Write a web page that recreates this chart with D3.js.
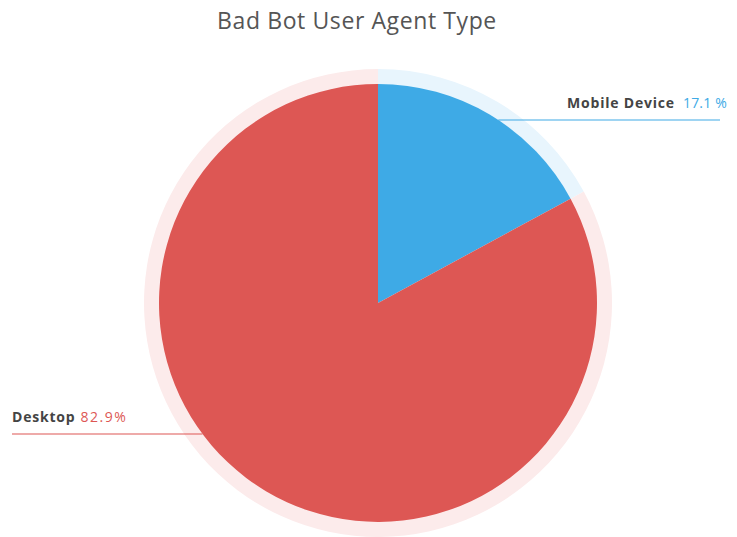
<!DOCTYPE html>
<html>
<head>
<meta charset="utf-8">
<script src="https://cdn.jsdelivr.net/npm/d3@7"></script>
<style>
  body { margin: 0; background: #fff; }
  text { font-family: "Open Sans", Lato, sans-serif; }
</style>
</head>
<body>
<div id="chart"></div>
<script>
// pie data
var categories = ["Mobile Device", "Desktop"];
var values = [17.1, 82.9];
var valueLabels = ["17.1 %", "82.9%"];

var width = 737, height = 537;
var cx = 378, cy = 303;
var radius = 219, haloRadius = 234;

var colors = d3.scaleOrdinal().domain(categories).range(["#3eaae6", "#dd5754"]);
var haloColors = d3.scaleOrdinal().domain(categories).range(["#e8f5fd", "#fcebeb"]);

var svg = d3.select("#chart").append("svg")
  .attr("width", width)
  .attr("height", height);

svg.append("text")
  .attr("x", 357)
  .attr("y", 29)
  .attr("text-anchor", "middle")
  .style("font-size", "23px")
  .style("letter-spacing", "0.6px")
  .style("fill", "#555")
  .text("Bad Bot User Agent Type");

var data = categories.map(function(c, i) { return {name: c, value: values[i], label: valueLabels[i]}; });

var pie = d3.pie().sort(null).value(function(d) { return d.value; });
var arcs = pie(data);

var g = svg.append("g").attr("transform", "translate(" + cx + "," + cy + ")");

// light halo round each slice
g.selectAll(".halo")
  .data(arcs)
  .enter().append("path")
  .attr("class", "halo")
  .attr("d", d3.arc().innerRadius(radius - 2).outerRadius(haloRadius))
  .attr("fill", function(d) { return haloColors(d.data.name); });

g.selectAll(".slice")
  .data(arcs)
  .enter().append("path")
  .attr("class", "slice")
  .attr("d", d3.arc().innerRadius(0).outerRadius(radius))
  .attr("fill", function(d) { return colors(d.data.name); });

// label lines, y positions in chart coords
var labelPos = [
  {y: 120, x1: null, x2: 720, tx: 567, side: "right", gap: 8, ls: 0.2},
  {y: 434, x1: 12, x2: null, tx: 12, side: "left", gap: 5, ls: 1.5}
];

arcs.forEach(function(a, i) {
  var p = labelPos[i];
  var dy = p.y - cy;
  var dx = Math.sqrt(radius * radius - dy * dy);
  var x1 = p.side == "right" ? cx + dx : p.x1;
  var x2 = p.side == "right" ? p.x2 : cx - dx;
  svg.append("line")
    .attr("x1", x1).attr("x2", x2)
    .attr("y1", p.y).attr("y2", p.y)
    .attr("stroke", colors(a.data.name))
    .attr("stroke-width", 1.2);

  var name = svg.append("text")
    .attr("x", p.tx)
    .attr("y", p.y - 12)
    .style("font-size", "14px")
    .style("font-weight", "bold")
    .style("letter-spacing", "0.8px")
    .style("fill", "#444")
    .text(a.data.name);
  var w = name.node().getComputedTextLength();
  svg.append("text")
    .attr("x", p.tx + w + p.gap)
    .attr("y", p.y - 12)
    .style("font-size", "14px")
    .style("letter-spacing", p.ls + "px")
    .style("fill", colors(a.data.name))
    .text(a.data.label);
});
</script>
</body>
</html>
